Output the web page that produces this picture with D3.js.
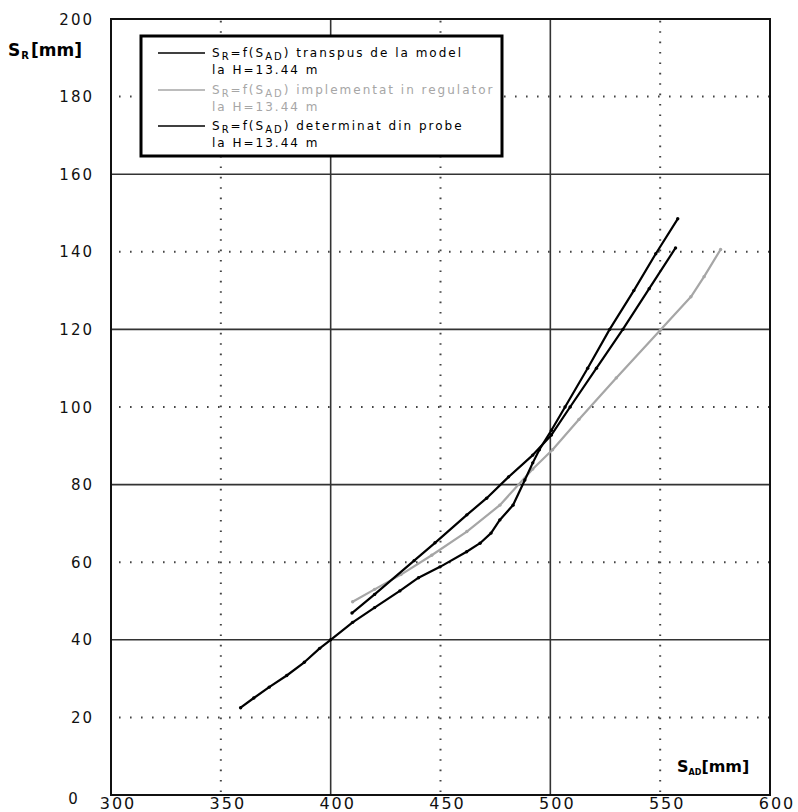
<!DOCTYPE html>
<html>
<head>
<meta charset="utf-8">
<script src="https://cdn.jsdelivr.net/npm/d3@7/dist/d3.min.js"></script>
<style>
html,body{margin:0;padding:0;background:#fff;}
svg{display:block;}
text{font-family:"DejaVu Sans",sans-serif;}
</style>
</head>
<body>
<svg id="chart" width="798" height="812"></svg>
<script>
// ---- data ----
const xTicks = [300, 350, 400, 450, 500, 550, 600];
const yTicks = [0, 20, 40, 60, 80, 100, 120, 140, 160, 180, 200];
const xMajor = [400, 500];
const xMinor = [350, 450, 550];
const yMajor = [40, 80, 120, 160];
const yMinor = [20, 60, 100, 140, 180];

// S_R = f(S_AD) transpus de la model
const modelSAD = [409.7, 420, 438, 447.5, 462, 471, 481, 492, 500.5, 509, 521, 533, 545, 557];
const modelSR  = [46.9, 51.7, 60.4, 65, 72.2, 76.5, 82, 87.6, 92.8, 100, 110, 120, 130.5, 141];

// S_R = f(S_AD) implementat in regulator
const regSAD = [410, 420, 432, 446, 462, 477, 492, 501, 513, 530, 550, 564, 570, 577.5];
const regSR  = [49.8, 53, 56.8, 61.8, 67.9, 74.7, 84, 89, 96.8, 107.5, 119.8, 128.4, 133.6, 140.6];

// S_R = f(S_AD) determinat din probe
const probeSAD = [359, 365, 372, 380, 388, 395, 400, 410, 420, 431.5, 440, 449.8, 461.9, 468, 473, 477, 483, 488.4, 492, 495, 500.5, 506.7, 517, 527, 538, 548, 558];
const probeSR  = [22.5, 25, 27.8, 30.8, 34.2, 37.8, 40, 44.5, 48.3, 52.6, 56, 58.8, 62.7, 64.9, 67.5, 70.9, 74.7, 81.2, 85.6, 89, 94, 100, 110, 120, 130, 139.5, 148.5];

const legendLines = [
  {l1: ["S", "R", "=f(S", "AD", ") transpus de la model"], l2: "la H=13.44 m", color: "#000"},
  {l1: ["S", "R", "=f(S", "AD", ") implementat in regulator"], l2: "la H=13.44 m", color: "#a6a6a6"},
  {l1: ["S", "R", "=f(S", "AD", ") determinat din probe"], l2: "la H=13.44 m", color: "#000"}
];

// ---- layout ----
const L = 111, R = 770, T = 19, B = 795;
const svg = d3.select("#chart");
const x = d3.scaleLinear().domain([300, 600]).range([L, R]);
const y = d3.scaleLinear().domain([0, 200]).range([B, T]);

// grid
const g = svg.append("g");
g.selectAll(".vmaj").data(xMajor).join("line")
  .attr("x1", d => x(d)).attr("x2", d => x(d)).attr("y1", T).attr("y2", B)
  .attr("stroke", "#333").attr("stroke-width", 1.6);
g.selectAll(".hmaj").data(yMajor).join("line")
  .attr("y1", d => y(d)).attr("y2", d => y(d)).attr("x1", L).attr("x2", R)
  .attr("stroke", "#333").attr("stroke-width", 1.6);
g.selectAll(".vmin").data(xMinor).join("line")
  .attr("x1", d => x(d)).attr("x2", d => x(d)).attr("y1", B - 3).attr("y2", T)
  .attr("stroke", "#444").attr("stroke-width", 2).attr("stroke-dasharray", "1.6,8.8");
g.selectAll(".hmin").data(yMinor).join("line")
  .attr("y1", d => y(d)).attr("y2", d => y(d)).attr("x1", L + 8).attr("x2", R)
  .attr("stroke", "#444").attr("stroke-width", 2).attr("stroke-dasharray", "1.6,9.4");

// frame
svg.append("rect").attr("x", L).attr("y", T).attr("width", R - L).attr("height", B - T)
  .attr("fill", "none").attr("stroke", "#111").attr("stroke-width", 2);

// tick labels
svg.append("g").selectAll("text").data(xTicks).join("text")
  .attr("x", d => x(d) + 7).attr("y", 809)
  .attr("text-anchor", "middle").attr("font-size", 16).attr("letter-spacing", 2)
  .attr("fill", "#111").text(d => d);
svg.append("g").selectAll("text").data(yTicks.filter(d => d > 0)).join("text")
  .attr("x", 94).attr("y", d => y(d) + 5.5)
  .attr("text-anchor", "end").attr("font-size", 15).attr("letter-spacing", 2)
  .attr("fill", "#111").text(d => d);
svg.append("text").attr("x", 73).attr("y", 804).attr("text-anchor", "middle")
  .attr("font-size", 15).attr("fill", "#111").text(yTicks[0]);

// axis titles
const yt = svg.append("text").attr("x", 8).attr("y", 56).attr("font-weight", "bold").attr("font-size", 17).attr("fill", "#000");
yt.append("tspan").text("S");
yt.append("tspan").attr("font-size", 10).attr("dy", 3).attr("dx", 1).text("R");
yt.append("tspan").attr("dy", -3).attr("dx", 2).text("[mm]");
const xt = svg.append("text").attr("x", 677).attr("y", 772).attr("font-weight", "bold").attr("font-size", 16).attr("fill", "#000");
xt.append("tspan").text("S");
xt.append("tspan").attr("font-size", 8).attr("dy", 3).text("AD");
xt.append("tspan").attr("dy", -3).text("[mm]");

// series
const line = d3.line().x(d => x(d[0])).y(d => y(d[1]));
const series = [
  {xs: regSAD, ys: regSR, color: "#a6a6a6"},
  {xs: modelSAD, ys: modelSR, color: "#000"},
  {xs: probeSAD, ys: probeSR, color: "#000"}
];
series.forEach(s => {
  const pts = s.xs.map((v, i) => [v, s.ys[i]]);
  svg.append("path").datum(pts).attr("d", line)
    .attr("fill", "none").attr("stroke", s.color).attr("stroke-width", 2.2)
    .attr("stroke-linejoin", "round");
  svg.append("g").selectAll("circle").data(pts).join("circle")
    .attr("cx", d => x(d[0])).attr("cy", d => y(d[1])).attr("r", 1.7)
    .attr("fill", s.color);
});

// legend
const lg = svg.append("g");
lg.append("rect").attr("x", 141).attr("y", 36).attr("width", 361).attr("height", 120)
  .attr("fill", "#fff").attr("stroke", "#000").attr("stroke-width", 3);
const rowY = [57, 94, 130];
legendLines.forEach((e, i) => {
  const yy = rowY[i];
  lg.append("line").attr("x1", 158).attr("x2", 205).attr("y1", yy - 4).attr("y2", yy - 4)
    .attr("stroke", e.color).attr("stroke-width", 1.5);
  const t = lg.append("text").attr("x", 212).attr("y", yy).attr("font-size", 12)
    .attr("letter-spacing", 2).attr("fill", e.color);
  t.append("tspan").text(e.l1[0]);
  t.append("tspan").attr("font-size", 10).attr("dy", 3).text(e.l1[1]);
  t.append("tspan").attr("dy", -3).text(e.l1[2]);
  t.append("tspan").attr("font-size", 10).attr("dy", 3).text(e.l1[3]);
  t.append("tspan").attr("dy", -3).text(e.l1[4]);
  lg.append("text").attr("x", 212).attr("y", yy + 17).attr("font-size", 12)
    .attr("letter-spacing", 2).attr("fill", e.color).text(e.l2);
});
</script>
</body>
</html>
